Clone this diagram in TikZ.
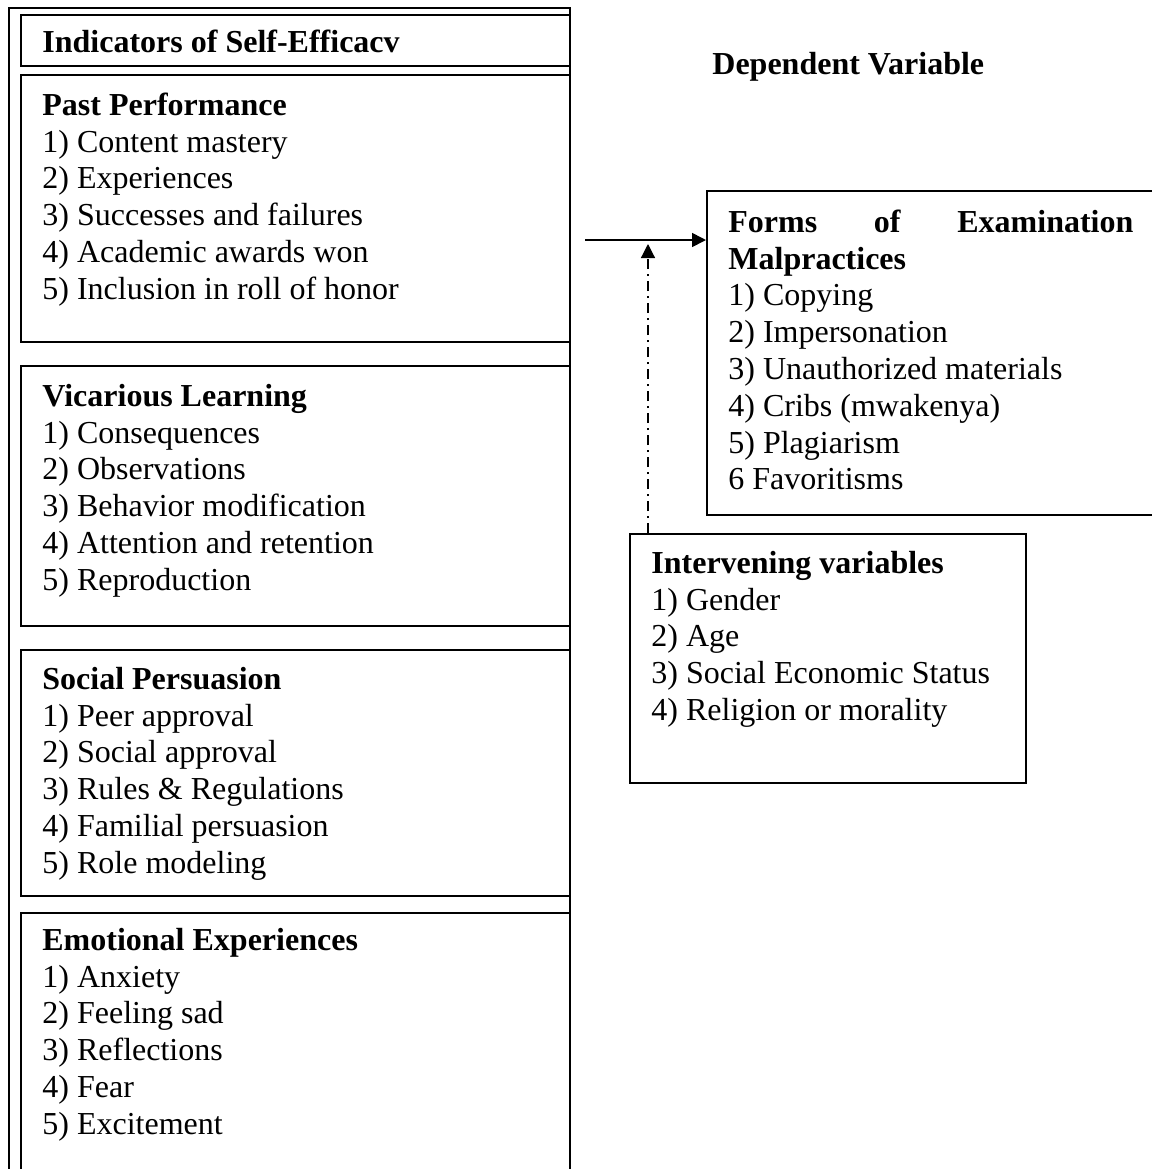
\documentclass[tikz,border=0pt]{standalone}
\usepackage{fontspec}
\setmainfont{Liberation Serif}
\usetikzlibrary{arrows.meta}
\begin{document}
\begin{tikzpicture}[x=0.5pt,y=-0.5pt,
  box/.style={draw,line width=1pt,rectangle,anchor=north west,inner sep=0pt},
  txt/.style={anchor=north west,inner sep=0pt,align=left,font=\fontsize{16pt}{18.4pt}\selectfont},
  arr/.style={line width=0.8pt,-{Triangle[length=7pt,width=7pt]}},
  dashdotline/.style={line width=0.6pt,dash pattern=on 5pt off 2.5pt on 1pt off 2.5pt,-{Triangle[length=7pt,width=7pt]}}]
\useasboundingbox (0,0) rectangle (1152,1169);
\clip (0,0) rectangle (1152,1169);
% outer frame
\node[box,minimum width=280.5pt,minimum height=586.5pt] (outer) at (8,7) {};
% left column boxes
\node[box,minimum width=274.5pt,minimum height=25.5pt] (title) at (20,14) {};
\node[box,minimum width=274.5pt,minimum height=133.5pt] (pp) at (20,74) {};
\node[box,minimum width=274.5pt,minimum height=130pt] (vl) at (20,365) {};
\node[box,minimum width=274.5pt,minimum height=123pt] (sp) at (20,649) {};
\node[box,minimum width=274.5pt,minimum height=140pt] (ee) at (20,912) {};
% right boxes
\node[box,minimum width=230pt,minimum height=162pt] (forms) at (706,190) {};
\node[box,minimum width=198pt,minimum height=124.5pt] (interv) at (629,533) {};
% texts
\node[txt] (titletxt) at (42,26.2) {\strut\textbf{Indicators of Self-Efficacv}};
\node[txt] (pptxt) at (42,89.2) {\strut\textbf{Past Performance}\\
1) Content mastery\\
2) Experiences\\
3) Successes and failures\\
4) Academic awards won\\
5) Inclusion in roll of honor};
\node[txt] (vltxt) at (42,380.2) {\strut\textbf{Vicarious Learning}\\
1) Consequences\\
2) Observations\\
3) Behavior modification\\
4) Attention and retention\\
5) Reproduction};
\node[txt] (sptxt) at (42,663.2) {\strut\textbf{Social Persuasion}\\
1) Peer approval\\
2) Social approval\\
3) Rules \& Regulations\\
4) Familial persuasion\\
5) Role modeling};
\node[txt] (eetxt) at (42,924.2) {\strut\textbf{Emotional Experiences}\\
1) Anxiety\\
2) Feeling sad\\
3) Reflections\\
4) Fear\\
5) Excitement};
\node[txt] (deptxt) at (712,48.2) {\strut\textbf{Dependent Variable}};
\node[txt] (formstxt) at (728,206.2) {\strut\makebox[202.5pt][l]{\textbf{Forms}\hfill\textbf{of}\hfill\textbf{Examination}}\\
\textbf{Malpractices}\\
1) Copying\\
2) Impersonation\\
3) Unauthorized materials\\
4) Cribs (mwakenya)\\
5) Plagiarism\\
6 Favoritisms};
\node[txt] (intervtxt) at (651,547.2) {\strut\textbf{Intervening variables}\\
1) Gender\\
2) Age\\
3) Social Economic Status\\
4) Religion or morality};
% connectors
\coordinate (a0) at (585,240);
\draw[arr] (a0) -- (a0 -| forms.west);
\coordinate (dd) at (648,533);
\coordinate (ddtop) at (648,244);
\draw[dashdotline] (interv.north -| dd) -- (ddtop);
\end{tikzpicture}
\end{document}
